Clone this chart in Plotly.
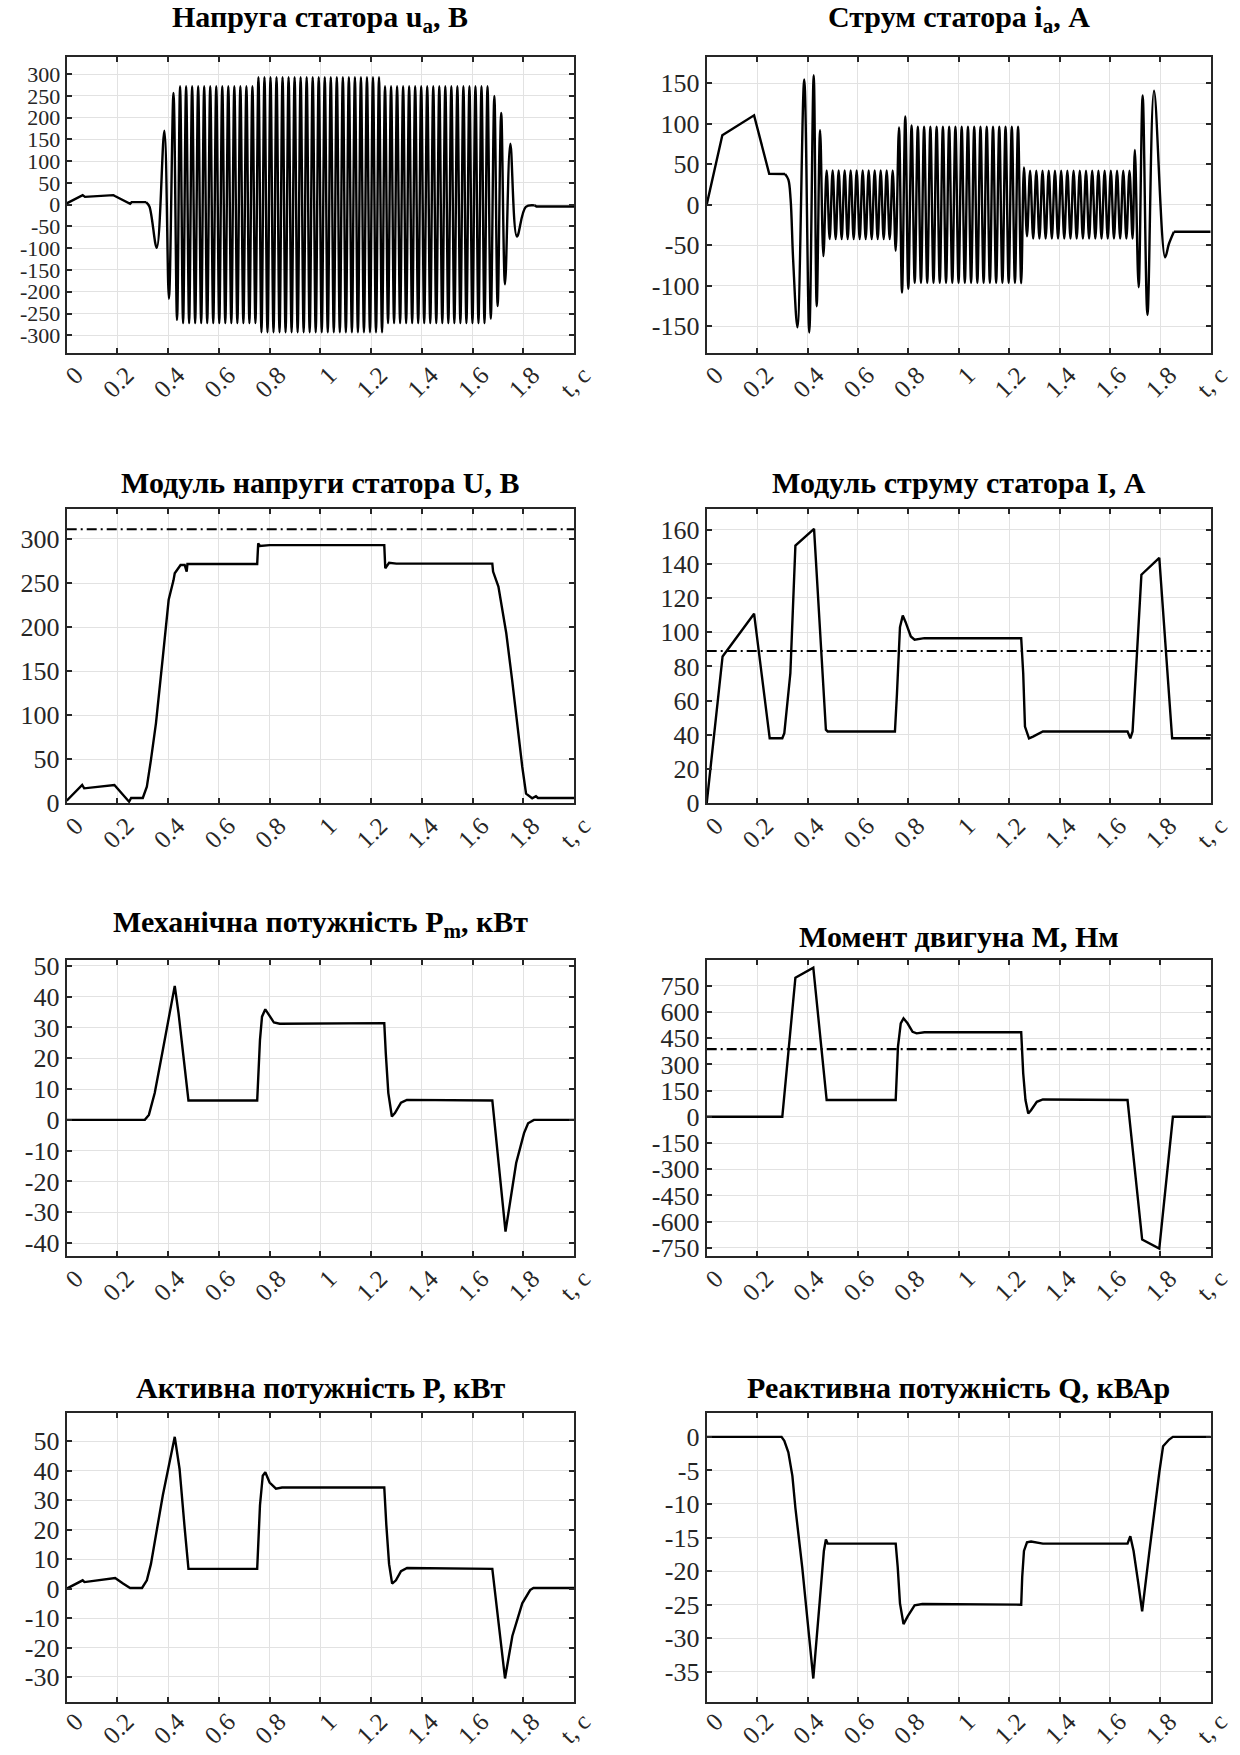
import plotly.graph_objects as go

FONT = "Liberation Serif, Times New Roman, serif"
INK = "#262626"
W, H = 1240, 1755

# ---------------- shared time axis ----------------
t_ticks = [0, 0.2, 0.4, 0.6, 0.8, 1.0, 1.2, 1.4, 1.6, 1.8, 2.0]
t_labels = ["0", "0.2", "0.4", "0.6", "0.8", "1", "1.2", "1.4", "1.6", "1.8", "t, c"]

# ---------------- 1: stator voltage u_a ----------------
ua_head_t = [0.0, 0.063, 0.072, 0.184, 0.190, 0.250, 0.256, 0.313]
ua_head_v = [3, 22, 18, 22, 20, 2, 6, 6]
ua_peak_t = [0.313, 0.326, 0.355, 0.385, 0.403, 0.421, 0.435, 0.447,
             1.659, 1.672, 1.686, 1.699, 1.713, 1.728, 1.749, 1.775, 1.810, 1.845]
ua_peak_v = [6, -4, -99, 170, -216, 257, -265, 272,
             272, -262, 250, -233, 211, -183, 140, -73, -5, -1.6]
ua_fill_index = 7          # steady oscillation between 0.447 and 1.659
ua_fill_halfcycles = 102
ua_block_edges = [0.447, 0.745, 1.245, 1.659]
ua_block_amp = [272, 293, 272]
ua_tail_t = [1.845, 1.852, 2.0]
ua_tail_v = [-1.6, -4, -4]

# ---------------- 2: stator current i_a ----------------
ia_head_t = [0.0, 0.062, 0.188, 0.248, 0.311]
ia_head_v = [0, 86, 110.5, 38.3, 38]
ia_peak_t = [0.311, 0.324, 0.333, 0.343, 0.360, 0.387, 0.407, 0.4246, 0.4365, 0.450,
             0.463, 0.476, 0.750, 0.763, 0.775, 0.788, 0.800, 0.813, 1.248, 1.259,
             1.271, 1.690, 1.699, 1.714, 1.730, 1.749, 1.775, 1.819, 1.834, 1.854]
ia_peak_v = [38, 31, 6.5, -68, -151.5, 155, -158, 160, -125.5, 92,
             -63.6, 42.5, -57, 95.5, -108.5, 109, -104, 98, -97, 46,
             -39, -42, 67.6, -102, 135, -136.4, 141, -65, -48.6, -33.4]
ia_fill_index = [11, 17, 20]
ia_fill_halfcycles = [23, 35, 34]
ia_fill_amp = [42.5, 96.5, 42]
ia_tail_t = [1.854, 2.0]
ia_tail_v = [-33.4, -33.4]

# ---------------- 3: voltage modulus U ----------------
U_t = [0, 0.061, 0.069, 0.188, 0.246, 0.254, 0.300, 0.316, 0.332, 0.352, 0.379, 0.402,
       0.421, 0.426, 0.449, 0.465, 0.473, 0.476, 0.751, 0.755, 0.762, 0.800, 1.252,
       1.256, 1.271, 1.300, 1.678, 1.681, 1.702, 1.725, 1.733, 1.756, 1.780, 1.796,
       1.811, 1.835, 1.850, 1.858, 2.0]
U_v = [3, 20.8, 17, 20.8, 1.8, 6, 6, 18.9, 49, 91, 166, 231,
       253, 261, 270.5, 270.5, 263, 271.6, 271.6, 295, 292, 293, 293,
       266.7, 273, 272, 272, 263, 246, 204, 193, 140, 79, 41.5,
       11, 5.7, 8, 6, 6]
U_rated = 311

# ---------------- 4: current modulus I ----------------
I_t = [0, 0.063, 0.188, 0.250, 0.300, 0.308, 0.332, 0.352, 0.426, 0.473, 0.480, 0.747,
       0.755, 0.767, 0.778, 0.789, 0.810, 0.825, 0.864, 1.248, 1.256, 1.263, 1.279,
       1.295, 1.334, 1.670, 1.681, 1.690, 1.725, 1.796, 1.847, 2.0]
I_v = [0, 85.8, 110.8, 38, 38, 41, 76, 150.6, 160.4, 43, 42, 42,
       64, 103, 109.7, 106, 97.5, 95.6, 96.5, 96.5, 76, 44.8, 38,
       39, 42, 42, 38, 42, 133.6, 143.4, 38, 38]
I_rated = 89

# ---------------- 5: mechanical power Pm ----------------
Pm_t = [0, 0.308, 0.324, 0.347, 0.379, 0.426, 0.441, 0.465, 0.480, 0.751, 0.762, 0.770,
        0.783, 0.798, 0.817, 0.840, 1.252, 1.258, 1.268, 1.282, 1.294, 1.318, 1.341,
        1.678, 1.730, 1.772, 1.803, 1.819, 1.842, 2.0]
Pm_v = [0, 0, 1.6, 8.7, 22.7, 43.5, 34.6, 17.3, 6.3, 6.3, 26, 33.5,
        35.9, 34, 31.6, 31.2, 31.4, 21.6, 8.7, 1.1, 2.2, 5.6, 6.5,
        6.3, -36.3, -14, -4.3, -1.1, 0, 0]

# ---------------- 6: motor torque M ----------------
M_t = [0, 0.300, 0.352, 0.423, 0.476, 0.750, 0.759, 0.770, 0.781, 0.797, 0.817, 0.833,
       0.864, 1.248, 1.256, 1.265, 1.276, 1.287, 1.310, 1.334, 1.670, 1.728, 1.796,
       1.850, 2.0]
M_v = [0, 0, 797, 854, 96, 96, 401, 535.6, 564, 535.6, 487, 478,
       484, 484, 249, 96, 19.5, 38, 86, 99.6, 96, -703, -754.6,
       0, 0]
M_rated = 388

# ---------------- 7: active power P ----------------
P_t = [0, 0.027, 0.063, 0.070, 0.191, 0.222, 0.250, 0.297, 0.316, 0.332, 0.351, 0.379,
       0.426, 0.445, 0.465, 0.480, 0.751, 0.762, 0.773, 0.783, 0.800, 0.825, 0.849,
       1.252, 1.260, 1.271, 1.283, 1.298, 1.318, 1.342, 1.678, 1.728, 1.757, 1.796,
       1.827, 1.840, 2.0]
P_v = [0, 1.1, 2.8, 2.2, 3.6, 1.7, 0.2, 0.2, 2.8, 8.3, 18.3, 31.7,
       51.5, 40.6, 20.6, 6.7, 6.7, 28.3, 38.3, 39.5, 36, 33.9, 34.3,
       34.3, 21.7, 8.3, 1.7, 2.8, 5.9, 7, 6.7, -30.5, -16.1, -5,
       -0.5, 0.2, 0.2]

# ---------------- 8: reactive power Q ----------------
Q_t = [0, 0.297, 0.308, 0.324, 0.340, 0.352, 0.379, 0.423, 0.449, 0.465, 0.473, 0.480,
       0.750, 0.758, 0.767, 0.781, 0.798, 0.825, 0.856, 1.248, 1.252, 1.259, 1.271,
       1.287, 1.334, 1.670, 1.681, 1.694, 1.713, 1.728, 1.757, 1.780, 1.796, 1.811,
       1.835, 1.850, 2.0]
Q_v = [0, 0, -0.6, -2.3, -5.8, -10.6, -19.4, -36, -24.3, -17, -15.3, -15.9,
       -15.9, -19.4, -24.8, -27.9, -26.7, -25.1, -24.9, -25, -20.9, -17, -15.7,
       -15.6, -15.9, -15.9, -14.8, -17, -21.9, -26, -17, -9.6, -5.3, -1.4,
       -0.4, 0, 0]

# ---------------- titles / axes ----------------
titles = [
    "<b>Напруга статора u<sub>a</sub>, В</b>",
    "<b>Струм статора i<sub>a</sub>, А</b>",
    "<b>Модуль напруги статора U, В</b>",
    "<b>Модуль струму статора I, А</b>",
    "<b>Механічна потужність P<sub>m</sub>, кВт</b>",
    "<b>Момент двигуна M, Нм</b>",
    "<b>Активна потужність P, кВт</b>",
    "<b>Реактивна потужність Q, кВАр</b>",
]
y_ticks = [
    list(range(-300, 301, 50)),
    list(range(-150, 151, 50)),
    list(range(0, 301, 50)),
    list(range(0, 161, 20)),
    list(range(-40, 51, 10)),
    list(range(-750, 751, 150)),
    list(range(-30, 51, 10)),
    list(range(-35, 1, 5)),
]
y_ranges = [[-340, 340], [-183, 183], [0, 334], [0, 172],
            [-44.2, 51.9], [-797, 898], [-38.5, 59.7], [-39.5, 3.6]]
y_font = [22, 26, 26, 26, 26, 26, 26, 26]
# title anchor positions, pixels from the top
title_px = [19, 19, 482, 482, 924, 936, 1387, 1387]


# ---------------- helpers ----------------
def peaks_with_fill(pt, pv, fill_idx, fill_n, amp_of):
    ts, vs = [], []
    for i in range(len(pt)):
        ts.append(pt[i])
        vs.append(pv[i])
        if i in fill_idx:
            j = fill_idx.index(i)
            n = fill_n[j]
            t0, t1 = pt[i], pt[i + 1]
            s0 = 1 if pv[i] > 0 else -1
            for k in range(1, n):
                t = t0 + k * (t1 - t0) / n
                ts.append(t)
                vs.append(s0 * (-1) ** k * amp_of(j, t))
    return ts, vs


def ua_amp(_j, t):
    for b in range(len(ua_block_amp)):
        if ua_block_edges[b] <= t < ua_block_edges[b + 1]:
            return ua_block_amp[b]
    return ua_block_amp[-1]


ua_osc_t, ua_osc_v = peaks_with_fill(ua_peak_t, ua_peak_v, [ua_fill_index],
                                     [ua_fill_halfcycles], ua_amp)
ia_osc_t, ia_osc_v = peaks_with_fill(ia_peak_t, ia_peak_v, ia_fill_index,
                                     ia_fill_halfcycles, lambda j, t: ia_fill_amp[j])

# ---------------- layout geometry (pixels) ----------------
col_px = [(66.7, 574.0), (706.7, 1210.7)]
row_px = [(56.7, 352.7), (509.0, 803.3), (960.0, 1256.0), (1412.7, 1702.0)]
row_label_standoff = [-4, -4, -4, -7]

fig = go.Figure()
line = dict(color="black", width=2.4)
dash = dict(color="black", width=2.2, dash="10px,4px,2px,4px")


def add(idx, x, y, shape="linear", style=None):
    ax = "" if idx == 0 else str(idx + 1)
    fig.add_trace(go.Scatter(x=x, y=y, mode="lines", line=dict(style or line, shape=shape),
                             xaxis="x" + ax, yaxis="y" + ax, showlegend=False,
                             hoverinfo="skip"))


add(0, ua_head_t, ua_head_v)
add(0, ua_osc_t, ua_osc_v, "spline")
add(0, ua_tail_t, ua_tail_v)
add(1, ia_head_t, ia_head_v)
add(1, ia_osc_t, ia_osc_v, "spline")
add(1, ia_tail_t, ia_tail_v)
add(2, [0, 2], [U_rated, U_rated], style=dash)
add(2, U_t, U_v)
add(3, [0, 2], [I_rated, I_rated], style=dash)
add(3, I_t, I_v)
add(4, Pm_t, Pm_v)
add(5, [0, 2], [M_rated, M_rated], style=dash)
add(5, M_t, M_v)
add(6, P_t, P_v)
add(7, Q_t, Q_v)

layout = dict(width=W, height=H, autosize=False,
              margin=dict(l=0, r=0, t=0, b=0, pad=0, autoexpand=False),
              paper_bgcolor="white", plot_bgcolor="white", annotations=[])
for idx in range(8):
    r, c = idx // 2, idx % 2
    x0, x1 = col_px[c]
    y0, y1 = row_px[r]
    ax = "" if idx == 0 else str(idx + 1)
    common = dict(showline=True, linewidth=2, linecolor=INK, mirror="allticks",
                  ticks="inside", ticklen=5, tickwidth=1.5, tickcolor=INK,
                  showgrid=True, gridcolor="#e2e2e2", gridwidth=1, zeroline=False,
                  fixedrange=True, automargin=False, ticklabeloverflow="allow")
    layout["xaxis" + ax] = dict(common, domain=[x0 / W, x1 / W], range=[0, 2],
                                anchor="y" + ax, tickmode="array", tickvals=t_ticks,
                                ticktext=t_labels, tickangle=-45, ticklabelshift=9,
                                ticklabelstandoff=row_label_standoff[r],
                                tickfont=dict(family=FONT, size=25, color=INK))
    layout["yaxis" + ax] = dict(common, domain=[1 - y1 / H, 1 - y0 / H],
                                range=y_ranges[idx], anchor="x" + ax, tickmode="array",
                                tickvals=y_ticks[idx],
                                ticktext=[str(v) for v in y_ticks[idx]],
                                tickfont=dict(family=FONT, size=y_font[idx], color=INK))
    layout["annotations"].append(dict(text=titles[idx], xref="paper", yref="paper",
                                      x=(x0 + x1) / 2 / W, y=1 - title_px[idx] / H,
                                      xanchor="center", yanchor="middle", showarrow=False,
                                      font=dict(family=FONT, size=30, color="black")))

fig.update_layout(**layout)
fig.write_html("out.html", config=dict(responsive=False, displayModeBar=False))
